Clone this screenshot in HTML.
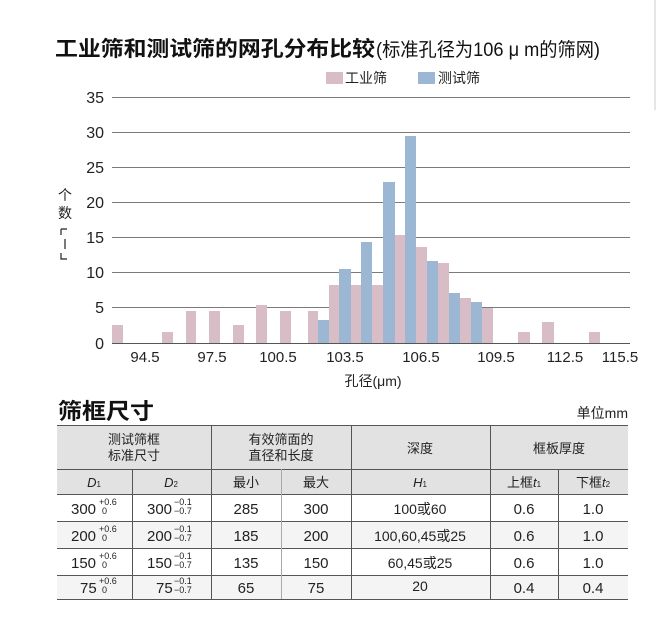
<!DOCTYPE html>
<html><head><meta charset="utf-8"><style>
body{margin:0;background:#fff;}
svg{display:block;font-family:"Liberation Sans","Noto Sans CJK SC",sans-serif;}
</style></head><body>
<svg width="658" height="619" viewBox="0 0 658 619" xmlns="http://www.w3.org/2000/svg">
<rect x="0" y="0" width="658" height="619" fill="#fff"/>
<line x1="655" y1="0" x2="655" y2="110" stroke="#ccc" stroke-width="1"/>
<!-- Title -->
<text x="55" y="56" font-size="21" font-weight="bold" fill="#111" textLength="320" lengthAdjust="spacingAndGlyphs">工业筛和测试筛的网孔分布比较</text>
<text x="376" y="56" font-size="19" fill="#111" textLength="224" lengthAdjust="spacingAndGlyphs">(标准孔径为106 μ m的筛网)</text>
<!-- legend -->
<rect x="326" y="72" width="17" height="12" fill="#d8bcc6"/>
<text x="345" y="83" font-size="14" fill="#222">工业筛</text>
<rect x="418" y="72" width="17" height="12" fill="#9bb7d4"/>
<text x="438" y="83" font-size="14" fill="#222">测试筛</text>
<!-- grid -->
<g stroke="#7a7a7a" stroke-width="1">
<line x1="112" y1="97.5" x2="630" y2="97.5"/>
<line x1="112" y1="132.5" x2="630" y2="132.5"/>
<line x1="112" y1="167.5" x2="630" y2="167.5"/>
<line x1="112" y1="202.5" x2="630" y2="202.5"/>
<line x1="112" y1="237.5" x2="630" y2="237.5"/>
<line x1="112" y1="272.5" x2="630" y2="272.5"/>
<line x1="112" y1="307.5" x2="630" y2="307.5"/>
</g>
<g font-size="16" fill="#222" text-anchor="end">
<text x="104" y="103">35</text><text x="104" y="138">30</text><text x="104" y="173">25</text>
<text x="104" y="208">20</text><text x="104" y="243">15</text><text x="104" y="278">10</text>
<text x="104" y="313">5</text><text x="104" y="349">0</text>
</g>
<g fill="#d8bcc6">
<rect x="112" y="325" width="11" height="18"/>
<rect x="162" y="332" width="11" height="11"/>
<rect x="186" y="311" width="10" height="32"/>
<rect x="209" y="311" width="11" height="32"/>
<rect x="233" y="325" width="11" height="18"/>
<rect x="256" y="305" width="11" height="38"/>
<rect x="280" y="311" width="11" height="32"/>
<rect x="308" y="311" width="10" height="32"/>
<rect x="329" y="285" width="10" height="58"/>
<rect x="351" y="285" width="10" height="58"/>
<rect x="372" y="285" width="11" height="58"/>
<rect x="395" y="235" width="10" height="108"/>
<rect x="416" y="247" width="11" height="96"/>
<rect x="438" y="263" width="11" height="80"/>
<rect x="460" y="298" width="11" height="45"/>
<rect x="482" y="308" width="11" height="35"/>
<rect x="518" y="332" width="12" height="11"/>
<rect x="542" y="322" width="12" height="21"/>
<rect x="589" y="332" width="11" height="11"/>
</g>
<g fill="#9bb7d4">
<rect x="318" y="320" width="11" height="23"/>
<rect x="339" y="269" width="12" height="74"/>
<rect x="361" y="242" width="11" height="101"/>
<rect x="383" y="182" width="12" height="161"/>
<rect x="405" y="136" width="11" height="207"/>
<rect x="427" y="261" width="11" height="82"/>
<rect x="449" y="293" width="11" height="50"/>
<rect x="471" y="302" width="11" height="41"/>
</g>
<line x1="112" y1="343.5" x2="630" y2="343.5" stroke="#555" stroke-width="1"/>
<g font-size="15" fill="#222" text-anchor="middle">
<text x="145" y="362">94.5</text><text x="212" y="362">97.5</text><text x="278" y="362">100.5</text>
<text x="345" y="362">103.5</text><text x="421" y="362">106.5</text><text x="496" y="362">109.5</text>
<text x="565" y="362">112.5</text><text x="620" y="362">115.5</text>
</g>
<text x="373" y="386" font-size="14" fill="#222" text-anchor="middle">孔径(μm)</text>
<g font-size="14" fill="#222" text-anchor="middle">
<text x="65" y="200">个</text><text x="65" y="218">数</text>
</g>
<path d="M61 229 h6 M61 229 v6 M65 239 v10 M61 253 v6 h6" stroke="#222" stroke-width="1.2" fill="none"/>
<!-- table title -->
<text x="58" y="419" font-size="22" font-weight="bold" fill="#111" textLength="96" lengthAdjust="spacingAndGlyphs">筛框尺寸</text>
<text x="628" y="418" font-size="14" fill="#222" text-anchor="end">单位mm</text>
<!-- table -->
<rect x="57" y="425" width="571" height="69" fill="#e2e2e2"/>
<rect x="57" y="521" width="571" height="27" fill="#f4f4f4"/>
<rect x="57" y="575" width="571" height="24" fill="#f4f4f4"/>
<g stroke="#555" stroke-width="1">
<line x1="57" y1="425.5" x2="628" y2="425.5"/>
<line x1="57" y1="469.5" x2="628" y2="469.5"/>
<line x1="57" y1="494.5" x2="628" y2="494.5"/>
<line x1="57" y1="521.5" x2="628" y2="521.5"/>
<line x1="57" y1="548.5" x2="628" y2="548.5"/>
<line x1="57" y1="575.5" x2="628" y2="575.5"/>
<line x1="57" y1="599.5" x2="628" y2="599.5"/>
<line x1="132.5" y1="469" x2="132.5" y2="599"/>
<line x1="211.5" y1="425" x2="211.5" y2="599"/>
<line x1="281.5" y1="469" x2="281.5" y2="599" stroke="#aaa"/>
<line x1="351.5" y1="425" x2="351.5" y2="599"/>
<line x1="490.5" y1="425" x2="490.5" y2="599"/>
<line x1="558.5" y1="469" x2="558.5" y2="599"/>
</g>
<g font-size="13" fill="#222" text-anchor="middle">
<text x="134" y="444">测试筛框</text><text x="134" y="460">标准尺寸</text>
<text x="281" y="444">有效筛面的</text><text x="281" y="460">直径和长度</text>
<text x="420" y="453">深度</text>
<text x="559" y="453">框板厚度</text>
<text x="94" y="487" font-style="italic">D<tspan font-size="8" font-style="normal">1</tspan></text>
<text x="171" y="487" font-style="italic">D<tspan font-size="8" font-style="normal">2</tspan></text>
<text x="246" y="487">最小</text><text x="316" y="487">最大</text>
<text x="420" y="487" font-style="italic">H<tspan font-size="8" font-style="normal">1</tspan></text>
<text x="524" y="487">上框<tspan font-style="italic">t</tspan><tspan font-size="8">1</tspan></text>
<text x="593" y="487">下框<tspan font-style="italic">t</tspan><tspan font-size="8">2</tspan></text>
</g>
<g font-size="15" fill="#222" text-anchor="middle">
<text x="246" y="514">285</text><text x="316" y="514">300</text><text x="420" y="514" font-size="14">100或60</text><text x="524" y="514">0.6</text><text x="593" y="514">1.0</text>
<text x="246" y="541">185</text><text x="316" y="541">200</text><text x="420" y="541" font-size="14">100,60,45或25</text><text x="524" y="541">0.6</text><text x="593" y="541">1.0</text>
<text x="246" y="568">135</text><text x="316" y="568">150</text><text x="420" y="568" font-size="14">60,45或25</text><text x="524" y="568">0.6</text><text x="593" y="568">1.0</text>
<text x="246" y="593">65</text><text x="316" y="593">75</text><text x="420" y="591" font-size="14">20</text><text x="524" y="593">0.4</text><text x="593" y="593">0.4</text>
</g>
<g font-size="15" fill="#222">
<text x="71" y="514">300</text><text x="99" y="505" font-size="9">+0.6</text><text x="102" y="514" font-size="9">0</text>
<text x="71" y="541">200</text><text x="99" y="532" font-size="9">+0.6</text><text x="102" y="541" font-size="9">0</text>
<text x="71" y="568">150</text><text x="99" y="559" font-size="9">+0.6</text><text x="102" y="568" font-size="9">0</text>
<text x="80" y="593">75</text><text x="99" y="584" font-size="9">+0.6</text><text x="102" y="593" font-size="9">0</text>
<text x="147" y="514">300</text><text x="174" y="505" font-size="9">−0.1</text><text x="174" y="514" font-size="9">−0.7</text>
<text x="147" y="541">200</text><text x="174" y="532" font-size="9">−0.1</text><text x="174" y="541" font-size="9">−0.7</text>
<text x="147" y="568">150</text><text x="174" y="559" font-size="9">−0.1</text><text x="174" y="568" font-size="9">−0.7</text>
<text x="156" y="593">75</text><text x="174" y="584" font-size="9">−0.1</text><text x="174" y="593" font-size="9">−0.7</text>
</g>
</svg>
</body></html>
